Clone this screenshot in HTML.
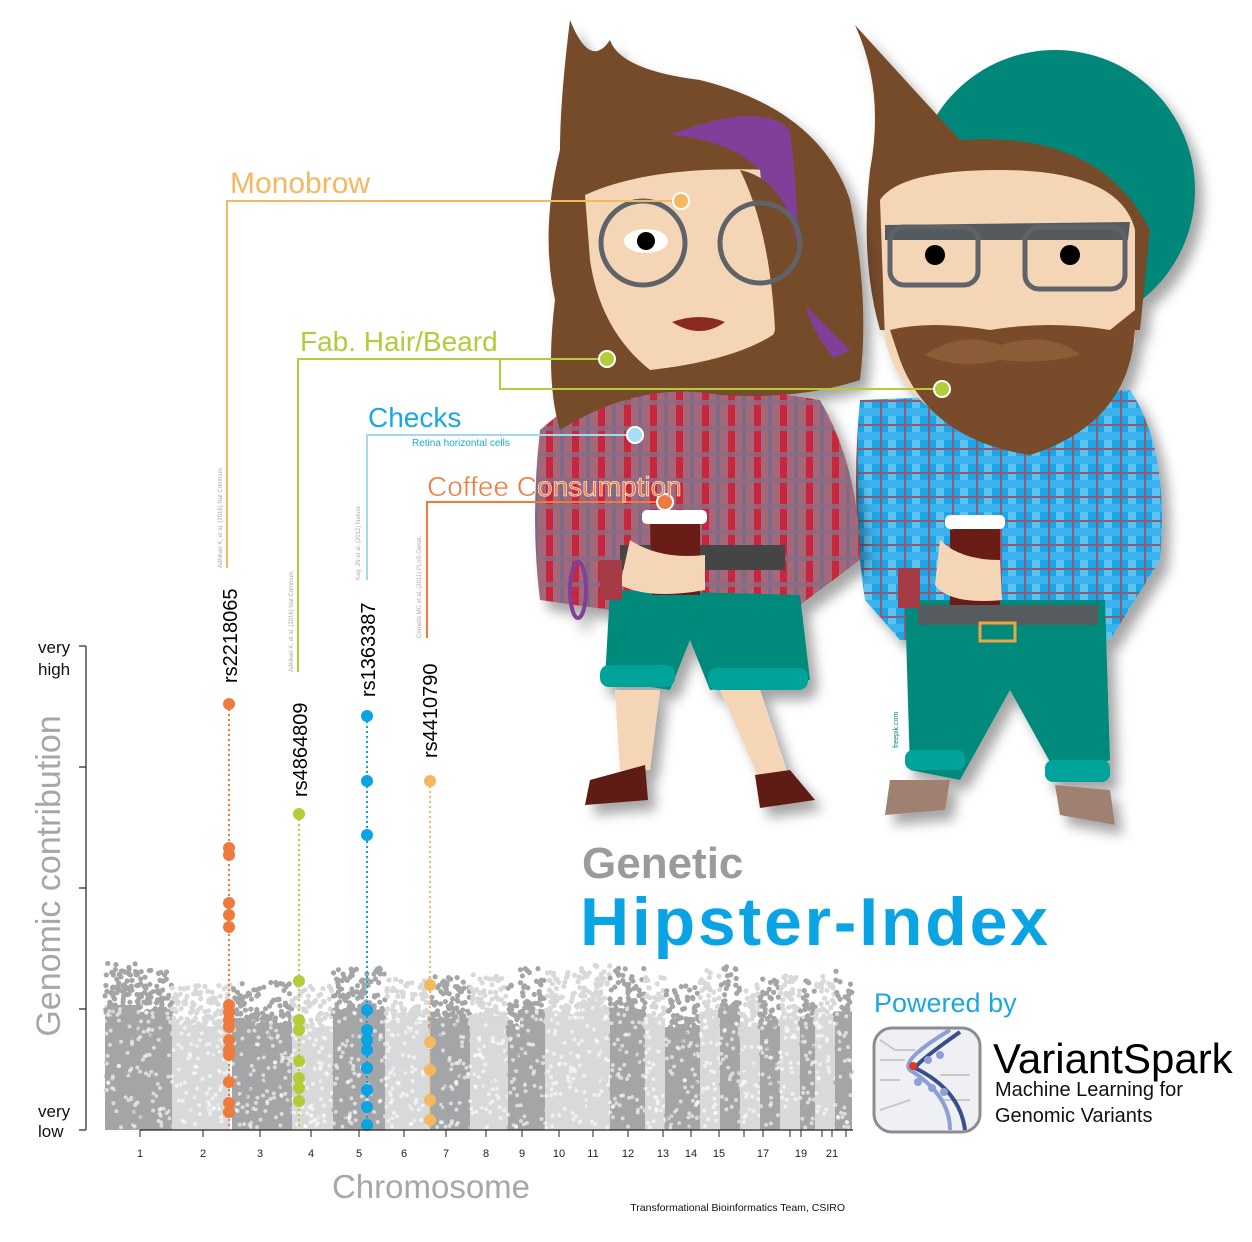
<!DOCTYPE html>
<html><head><meta charset="utf-8"><style>
html,body{margin:0;padding:0;background:#fff;}
svg{display:block;font-family:"Liberation Sans",sans-serif;}
</style></head><body>
<svg id="s" width="1252" height="1242" viewBox="0 0 1252 1242" xmlns="http://www.w3.org/2000/svg">
<defs>
<pattern id="redp" width="26" height="26" patternUnits="userSpaceOnUse">
<rect width="26" height="26" fill="#a5687a"/>
<rect x="0" width="7" height="26" fill="#c8283c"/>
<rect x="14" width="4" height="26" fill="#7d6a86"/>
<rect y="10" width="26" height="5" fill="#8b6d85" opacity="0.8"/>
</pattern>
<pattern id="bluep" width="24" height="24" patternUnits="userSpaceOnUse">
<rect width="24" height="24" fill="#1aa6e6"/>
<rect x="0" width="8" height="24" fill="#5fc3f0"/>
<rect y="0" width="24" height="8" fill="#3ab2ee"/>
<rect x="16" width="2" height="24" fill="#8a5d7a"/>
<rect y="16" width="24" height="2" fill="#8a5d7a"/>
</pattern>
<filter id="sh"><feDropShadow dx="8" dy="10" stdDeviation="6" flood-opacity="0.35"/></filter>
</defs>

<g id="man"></g>

<!-- MAN -->
<g filter="url(#sh)">
<circle cx="1055" cy="190" r="140" fill="#00877a"/>
<path d="M860 400 Q850 500 865 600 L900 640 L1110 640 L1160 560 Q1170 450 1130 390 Z" fill="url(#bluep)"/>
<path d="M905 600 L1105 600 L1110 760 L1060 780 L1010 690 L960 780 L910 770 Z" fill="#008a7c"/>
<rect x="905" y="750" width="60" height="20" rx="8" fill="#00a39a"/>
<rect x="1045" y="760" width="65" height="22" rx="8" fill="#00a39a"/>
<path d="M890 780 L950 780 L945 810 L885 815 Z" fill="#a08070"/>
<path d="M1055 785 L1110 790 L1115 825 L1060 815 Z" fill="#a08070"/>
<rect x="918" y="605" width="180" height="20" fill="#575b5d"/>
<rect x="980" y="623" width="35" height="18" fill="none" stroke="#e8a742" stroke-width="3"/>
<path d="M855 25 Q885 90 870 170 Q860 260 880 330 L1140 330 L1150 230 Q1100 130 960 140 Q905 80 855 25 Z" fill="#764b2a"/>
<path d="M880 200 Q900 170 1000 170 Q1120 170 1135 230 L1135 340 Q1110 420 1010 440 Q905 420 885 340 Z" fill="#f4d6b6"/>
<path d="M890 330 Q930 320 990 330 Q1050 320 1110 330 L1135 310 Q1140 420 1030 455 Q930 440 900 360 Z" fill="#7a4b2a"/>
<path d="M925 355 Q960 330 1000 345 Q1050 330 1080 355 Q1040 365 1000 360 Q960 370 925 355Z" fill="#8b5b36"/>
<path d="M885 225 L1130 222 L1128 240 L885 240 Z" fill="#555a5e"/>
<rect x="890" y="227" width="88" height="58" rx="14" fill="none" stroke="#5e6468" stroke-width="5"/>
<rect x="1025" y="227" width="100" height="62" rx="14" fill="none" stroke="#5e6468" stroke-width="5"/>
<circle cx="935" cy="255" r="10" fill="#000"/><circle cx="1070" cy="255" r="10" fill="#000"/>
<path d="M950 530 L1000 520 L1000 605 L950 605 Z" fill="#6a1a16"/>
<rect x="945" y="515" width="60" height="14" rx="5" fill="#fff"/>
<path d="M940 540 Q960 560 1000 560 L1002 600 Q950 605 935 585 Z" fill="#f4d6b6"/>
<rect x="898" y="568" width="22" height="40" fill="#a53a44"/>
</g>

<!-- WOMAN -->
<g filter="url(#sh)">
<path d="M540 430 Q530 520 540 600 L610 610 L800 605 L860 560 Q860 470 820 400 Q700 380 600 380 Z" fill="url(#redp)"/>
<path d="M610 590 L800 595 L810 680 L710 690 L690 640 L670 690 L605 680 Z" fill="#008a7c"/>
<rect x="600" y="665" width="75" height="22" rx="9" fill="#00a39a"/>
<rect x="708" y="668" width="100" height="22" rx="9" fill="#00a39a"/>
<path d="M615 690 L660 690 L650 770 L620 770 Z" fill="#f4d6b6"/>
<path d="M720 690 L760 690 L790 780 L760 780 Z" fill="#f4d6b6"/>
<path d="M590 780 L645 765 L648 800 L585 805 Z" fill="#5e1a16"/>
<path d="M755 775 L790 770 L815 800 L760 808 Z" fill="#5e1a16"/>
<rect x="620" y="545" width="165" height="25" fill="#444"/>
<path d="M570 20 Q560 100 560 150 Q540 230 555 300 Q545 380 560 430 Q640 380 720 395 Q800 400 860 380 Q870 300 850 200 Q820 110 700 80 Q620 70 610 40 Q590 70 570 20 Z" fill="#764b2a"/>
<path d="M585 195 Q650 165 770 170 L780 330 Q740 360 650 370 Q600 330 590 260 Z" fill="#f4d6b6"/>
<path d="M670 135 Q760 100 790 130 Q800 220 800 300 L850 350 L830 360 Q770 280 760 170 Q730 140 670 135 Z" fill="#803f9a"/>
<path d="M740 170 Q770 230 775 330 Q750 400 860 380 Q800 340 800 260 Q790 180 740 170 Z" fill="#764b2a"/>
<circle cx="643" cy="243" r="42" fill="none" stroke="#5e6468" stroke-width="5"/>
<circle cx="760" cy="243" r="40" fill="none" stroke="#5e6468" stroke-width="5"/>
<ellipse cx="646" cy="241" rx="22" ry="12" fill="#fff"/><circle cx="646" cy="241" r="9" fill="#000"/>
<path d="M672 322 Q700 312 725 322 Q700 340 672 322Z" fill="#8a2a20"/>
<path d="M650 520 L700 515 L700 595 L652 595 Z" fill="#6a1a16"/>
<rect x="642" y="510" width="65" height="14" rx="5" fill="#fff"/>
<path d="M630 540 Q660 560 705 555 L705 590 Q650 600 620 585 Z" fill="#f4d6b6"/>
<rect x="600" y="560" width="22" height="40" fill="#a53a44"/>
<ellipse cx="578" cy="590" rx="8" ry="28" fill="none" stroke="#803f9a" stroke-width="4"/>
</g>

<g fill="none" stroke-width="2">
<polyline points="681,201 227,201 227,568" stroke="#f4b860"/>
<polyline points="607,359 298,359 298,672" stroke="#b5cc3a"/>
<polyline points="500,359 500,389 942,389" stroke="#b5cc3a"/>
<polyline points="635,435 367,435 367,580" stroke="#9fd9f3"/>
<polyline points="665,502 427,502 427,638" stroke="#ee7a3d"/>
</g>
<circle cx="681" cy="201" r="8" fill="#f4b860" stroke="#fff" stroke-width="2"/>
<circle cx="607" cy="359" r="8" fill="#b5cc3a" stroke="#fff" stroke-width="2"/>
<circle cx="942" cy="389" r="8" fill="#b5cc3a" stroke="#fff" stroke-width="2"/>
<circle cx="635" cy="435" r="8" fill="#a8ddf5" stroke="#fff" stroke-width="2"/>
<circle cx="665" cy="502" r="8" fill="#ee7a3d" stroke="#fff" stroke-width="2"/>
<g font-size="28">
<text x="230" y="193" fill="#f4b860" font-size="30">Monobrow</text>
<text x="300" y="351" fill="#b5cc3a">Fab. Hair/Beard</text>
<text x="368" y="427" fill="#1ba8e0">Checks</text>
<text x="427" y="496" fill="#ee7a3d" stroke="#fff" stroke-width="0.6">Coffee Consumption</text>
</g>
<text x="412" y="446" font-size="10" fill="#1ba8e0">Retina horizontal cells</text>

<g font-size="6" fill="#aaa">
<text transform="translate(222,568) rotate(-90)">Adhikari K, et al. (2016) Nat Commun.</text>
<text transform="translate(293,672) rotate(-90)">Adhikari K, et al. (2016) Nat Commun.</text>
<text transform="translate(360,580) rotate(-90)">Kay, JN et al. (2012) Nature</text>
<text transform="translate(421,638) rotate(-90)">Cornelis MC et al. (2011) PLoS Genet.</text>
</g>
<g font-size="20" fill="#000">
<text transform="translate(237,683) rotate(-90)">rs2218065</text>
<text transform="translate(307,797) rotate(-90)">rs4864809</text>
<text transform="translate(375,697) rotate(-90)">rs1363387</text>
<text transform="translate(437,758) rotate(-90)">rs4410790</text>
</g>
<text x="898" y="748" font-size="7" fill="#00877a" transform="rotate(-90 898 748)">freepik.com</text>

<g id="hl"></g>

<g stroke="#222" stroke-width="1.2">
<line x1="86" y1="646" x2="86" y2="1130"/>
<line x1="79" y1="646" x2="86" y2="646"/><line x1="79" y1="767" x2="86" y2="767"/>
<line x1="79" y1="888" x2="86" y2="888"/><line x1="79" y1="1009" x2="86" y2="1009"/>
<line x1="79" y1="1130" x2="86" y2="1130"/>
<line x1="140" y1="1130" x2="853" y2="1130"/>
</g>
<g id="ticks" stroke="#222" stroke-width="1"></g>
<g font-size="11" fill="#222" text-anchor="middle" id="tl"></g>
<g font-size="17" fill="#111">
<text x="38" y="653">very</text><text x="38" y="675">high</text>
<text x="38" y="1117">very</text><text x="38" y="1137">low</text>
</g>
<text transform="translate(60,876) rotate(-90)" font-size="34" fill="#a5a7a9" text-anchor="middle">Genomic contribution</text>
<text x="431" y="1198" font-size="33" fill="#a5a7a9" text-anchor="middle">Chromosome</text>
<text x="845" y="1211" font-size="10.5" fill="#111" text-anchor="end">Transformational Bioinformatics Team, CSIRO</text>

<text x="582" y="878" font-size="44" font-weight="bold" fill="#9b9b9b">Genetic</text>
<text x="580" y="945" font-size="68" font-weight="bold" fill="#0aa3e3" textLength="468">Hipster-Index</text>
<text x="874" y="1012" font-size="27" fill="#1ba8e0">Powered by</text>
<g>
<rect x="874" y="1028" width="106" height="104" rx="18" fill="#eef0f3" stroke="#8b8d90" stroke-width="3"/>
<g stroke="#c8c8c8" stroke-width="2" fill="none">
<path d="M880 1040 L895 1050 L915 1050"/><path d="M880 1060 L905 1060"/><path d="M880 1080 L900 1080"/><path d="M940 1075 L970 1075"/><path d="M940 1100 L970 1100"/><path d="M880 1110 L910 1100"/>
</g>
<path d="M960 1032 Q920 1060 915 1068 Q960 1090 965 1130" fill="none" stroke="#3a4e8c" stroke-width="4"/>
<path d="M950 1030 Q900 1060 910 1070 Q950 1095 950 1130" fill="none" stroke="#8e9fd6" stroke-width="4"/>
<circle cx="913" cy="1066" r="4" fill="#e53a1e"/>
<circle cx="928" cy="1060" r="4" fill="#8e9fd6"/><circle cx="940" cy="1055" r="4" fill="#8e9fd6"/>
<circle cx="918" cy="1082" r="4" fill="#8e9fd6"/><circle cx="932" cy="1088" r="4" fill="#8e9fd6"/><circle cx="944" cy="1092" r="4" fill="#8e9fd6"/>
</g>
<text x="993" y="1073" font-size="42" fill="#000">VariantSpark</text>
<text x="995" y="1096" font-size="20" fill="#111">Machine Learning for</text>
<text x="995" y="1122" font-size="20" fill="#111">Genomic Variants</text>
</svg>
<script>
(function(){
var NS="http://www.w3.org/2000/svg";
function el(p,t,a){var e=document.createElementNS(NS,t);for(var k in a)e.setAttribute(k,a[k]);p.appendChild(e);return e;}
var seed=7;function r(){seed=(seed*16807)%2147483647;return seed/2147483647;}
var man=document.getElementById('man');
var bands=[[105,140,1],[140,172,1],[172,230,0],[232,292,1],[292,333,0],[333,385,1],[385,430,0],[430,470,1],[470,508,0],[508,520,1],[520,545,1],[545,580,0],[580,610,0],[610,645,1],[645,665,0],[665,700,1],[700,720,0],[720,740,1],[740,760,0],[760,780,1],[780,800,0],[800,815,1],[815,835,0],[835,852,1]];
bands.forEach(function(b,i){
 var c=b[2]?"#a3a5a7":"#d8d9db";
 var top=1005+r()*25;
 el(man,'rect',{x:b[0],y:top,width:b[1]-b[0],height:1130-top,fill:c});
 var n=Math.round((b[1]-b[0])*3);
 for(var j=0;j<n;j++){
  var x=b[0]+r()*(b[1]-b[0]);var y=top-Math.pow(r(),2.2)*50+8;
  el(man,'circle',{cx:x,cy:y,r:2.6,fill:c});
 }
 for(var j=0;j<n;j++){
  el(man,'circle',{cx:b[0]+r()*(b[1]-b[0]),cy:top+r()*(1128-top),r:2,fill:r()<0.5?"#fff":c,opacity:0.6});
 }
});
var hl=document.getElementById('hl');
var S=[[229,"#ee7a3d",704,[704,848,855,903,915,927,1005,1012,1020,1027,1040,1050,1055,1082,1103,1112]],
[299,"#b5cc3a",814,[814,981,1020,1030,1061,1078,1088,1101]],
[367,"#0aa3e3",716,[716,781,835,1010,1030,1040,1050,1068,1090,1107,1125]],
[430,"#f4b860",781,[781,985,1042,1070,1100,1120]]];
S.forEach(function(s){
 el(hl,'line',{x1:s[0],y1:s[2],x2:s[0],y2:1128,stroke:s[1],"stroke-width":2,"stroke-dasharray":"2 3"});
 s[3].forEach(function(y){el(hl,'circle',{cx:s[0],cy:y,r:6,fill:s[1]});});
});
var T=[[140,"1"],[203,"2"],[260,"3"],[311,"4"],[359,"5"],[404,"6"],[446,"7"],[486,"8"],[522,"9"],[559,"10"],[593,"11"],[628,"12"],[663,"13"],[691,"14"],[719,"15"],[744,""],[763,"17"],[790,""],[801,"19"],[822,""],[832,"21"],[846,""]];
var tk=document.getElementById('ticks'),tl=document.getElementById('tl');
T.forEach(function(t){el(tk,'line',{x1:t[0],y1:1130,x2:t[0],y2:1137});
 if(t[1]){var e=el(tl,'text',{x:t[0],y:1157});e.textContent=t[1];}});
})();
</script>
</body></html>
